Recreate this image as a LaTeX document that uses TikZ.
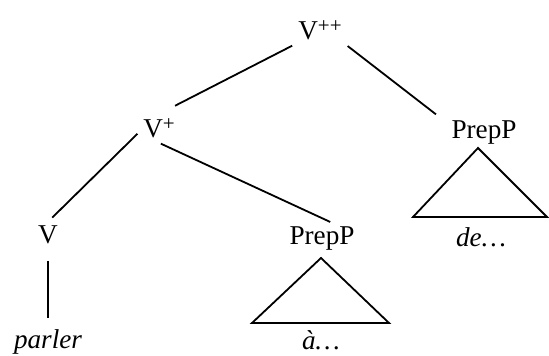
\documentclass[tikz,border=0pt]{standalone}
\usepackage{fontspec}
\setmainfont{Liberation Serif}
\usepackage{tikz}
\usetikzlibrary{positioning}

\newcommand{\barlevel}[1]{\raisebox{0.62ex}{\fontsize{10.5}{12}\selectfont #1}}

\begin{document}
\begin{tikzpicture}[
    x=0.5pt, y=-0.5pt,
    every node/.style={
        anchor=base, inner sep=2pt,
        font=\fontsize{13.6}{16}\selectfont
    },
    branch/.style={draw, line width=0.9pt},
    roof/.style={draw, line width=0.9pt, line join=miter},
    leaf/.style={font=\fontsize{13.6}{16}\selectfont\itshape},
]
    \useasboundingbox (0,0) rectangle (549,356);

    % categories
    \node (vpp)  at (320,40)  {V\barlevel{++}};
    \node (vp)   at (159,138) {V\barlevel{+}};
    \node (ppR)  at (484,139) {PrepP};
    \node (v)    at (48,244)  {V};
    \node (ppM)  at (322,245) {PrepP};

    % words
    \node[leaf] (de)     at (481,247) {de\ldots};
    \node[leaf] (parler) at (48,349)  {parler};
    \node[leaf] (a)      at (321,350) {à\ldots};

    % branches
    \draw[branch, shorten <=1pt, shorten >=9pt] (vpp.south west) -- (vp.north);
    \draw[branch, shorten <=1pt, shorten >=2pt] (vpp.south east) -- ([xshift=-4pt]ppR.north west);
    \draw[branch, shorten <=1pt, shorten >=3pt] ([yshift=-2pt]vp.west) -- (v.north);
    \draw[branch, shorten <=1pt, shorten >=1pt] (vp.south) -- ([xshift=5pt]ppM.north);
    \draw[branch, shorten <=6pt, shorten >=4pt] (v.south) -- (parler.north);

    % triangles
    \coordinate (tMtop)   at (321,258);
    \coordinate (tMleft)  at (252,323);
    \coordinate (tMright) at (389,323);
    \draw[roof] (tMtop) -- (tMleft) -- (tMright) -- cycle;

    \coordinate (tRtop)   at (478,148);
    \coordinate (tRleft)  at (413,217);
    \coordinate (tRright) at (547,217);
    \draw[roof] (tRtop) -- (tRleft) -- (tRright) -- cycle;
\end{tikzpicture}
\end{document}
